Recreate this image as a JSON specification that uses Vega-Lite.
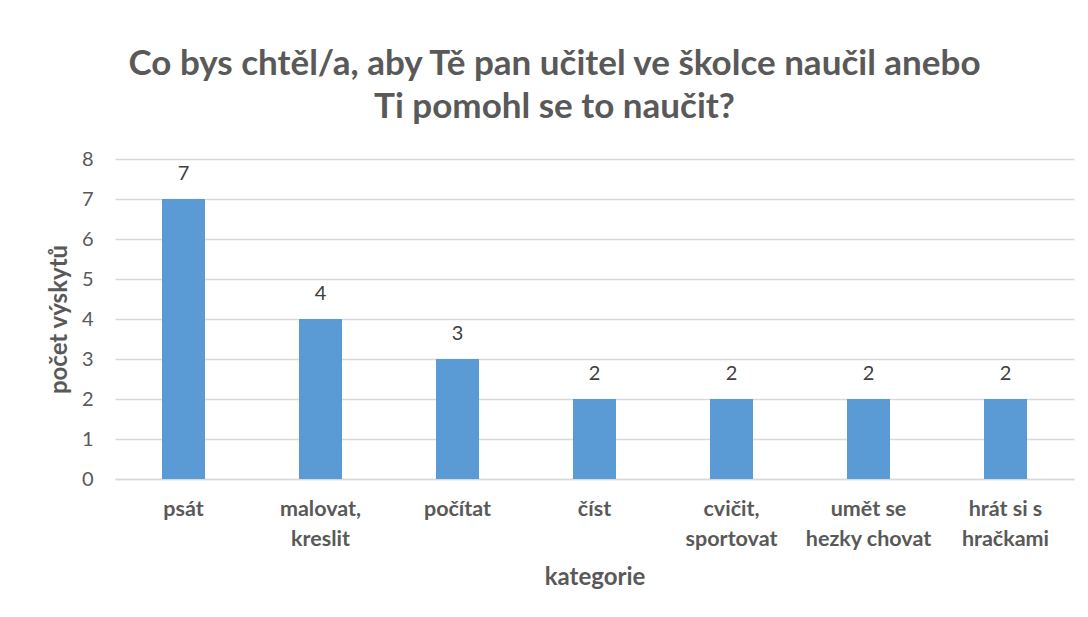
{
  "$schema": "https://vega.github.io/schema/vega-lite/v6.json",
  "width": 959,
  "height": 320,
  "autosize": {"type": "none"},
  "padding": {"left": 115, "top": 159, "right": 14, "bottom": 138},
  "background": "white",
  "title": {
    "text": ["Co bys chtěl/a, aby Tě pan učitel ve školce naučil anebo", "Ti pomohl se to naučit?"],
    "anchor": "middle",
    "frame": "group",
    "dx": -40,
    "offset": 24,
    "font": "Lato",
    "fontSize": 35,
    "fontWeight": "bold",
    "color": "#595959",
    "lineHeight": 43
  },
  "data": {
    "values": [
      {"kategorie": "psát", "pocet": 7},
      {"kategorie": "malovat, kreslit", "pocet": 4},
      {"kategorie": "počítat", "pocet": 3},
      {"kategorie": "číst", "pocet": 2},
      {"kategorie": "cvičit, sportovat", "pocet": 2},
      {"kategorie": "umět se hezky chovat", "pocet": 2},
      {"kategorie": "hrát si s hračkami", "pocet": 2}
    ]
  },
  "encoding": {
    "x": {
      "field": "kategorie",
      "type": "nominal",
      "sort": null,
      "scale": {"paddingInner": 0.686, "paddingOuter": 0.343},
      "axis": {
        "title": "kategorie",
        "labelAngle": 0,
        "labelExpr": "datum.label == 'malovat, kreslit' ? ['malovat,', 'kreslit'] : datum.label == 'cvičit, sportovat' ? ['cvičit,', 'sportovat'] : datum.label == 'umět se hezky chovat' ? ['umět se', 'hezky chovat'] : datum.label == 'hrát si s hračkami' ? ['hrát si s', 'hračkami'] : datum.label",
        "labelFont": "Lato",
        "labelFontSize": 21.5,
        "labelFontWeight": "bold",
        "labelColor": "#595959",
        "labelLineHeight": 30,
        "labelPadding": 19,
        "labelBaseline": "top",
        "ticks": false,
        "domain": true,
        "domainColor": "#d9d9d9",
        "domainWidth": 1.5,
        "grid": false,
        "titleFont": "Lato",
        "titleFontSize": 24,
        "titleFontWeight": "bold",
        "titleColor": "#595959",
        "titlePadding": 16
      }
    },
    "y": {
      "field": "pocet",
      "type": "quantitative",
      "scale": {"domain": [0, 8], "nice": false},
      "axis": {
        "title": "počet výskytů",
        "values": [0, 1, 2, 3, 4, 5, 6, 7, 8],
        "labelFont": "Lato",
        "labelFontSize": 20,
        "labelColor": "#595959",
        "labelPadding": 22,
        "ticks": false,
        "domain": false,
        "grid": true,
        "gridColor": "#d9d9d9",
        "gridWidth": 1.5,
        "titleFont": "Lato",
        "titleFontSize": 24,
        "titleFontWeight": "bold",
        "titleColor": "#595959",
        "titlePadding": 10
      }
    }
  },
  "layer": [
    {
      "mark": {"type": "bar", "color": "#5B9BD5"}
    },
    {
      "mark": {"type": "text", "baseline": "bottom", "dy": -15, "font": "Lato", "fontSize": 20, "color": "#404040"},
      "encoding": {"text": {"field": "pocet", "type": "quantitative"}}
    }
  ],
  "config": {"view": {"stroke": null}}
}
